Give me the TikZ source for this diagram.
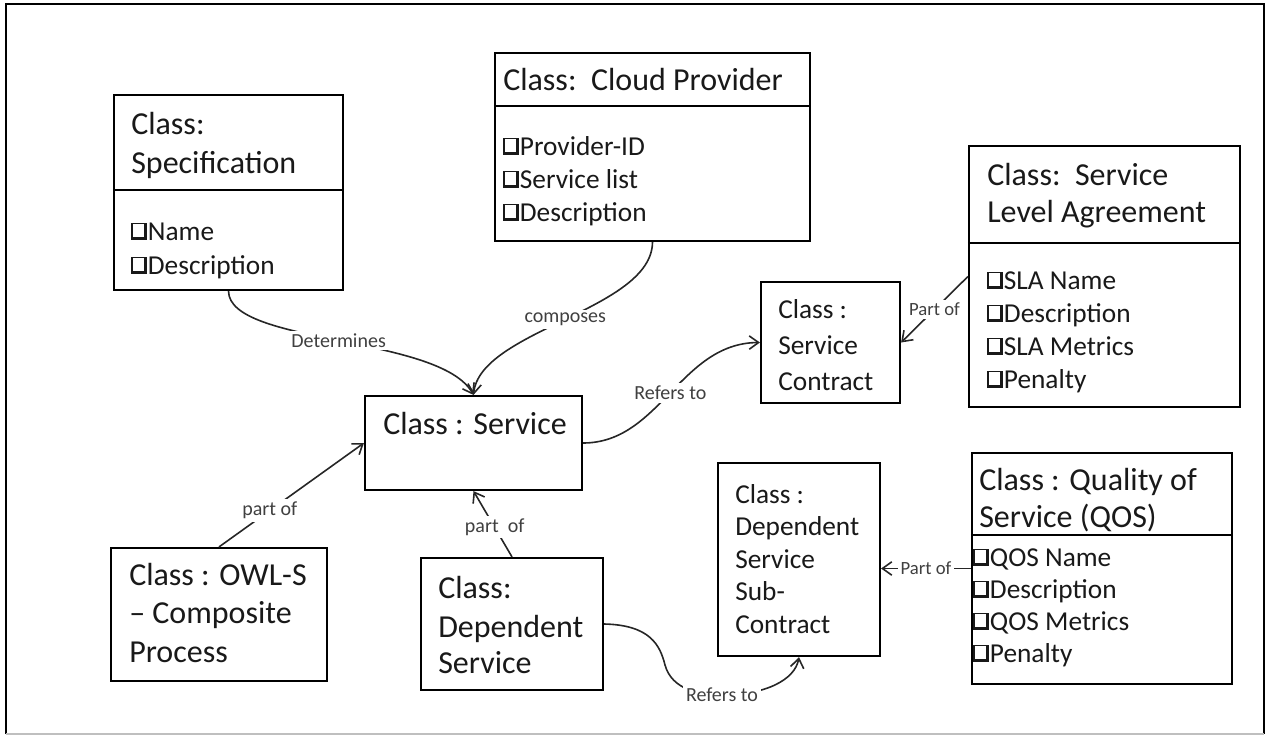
\documentclass[tikz,border=0pt]{standalone}
\usepackage{fontspec}
\setmainfont{Carlito}
\usetikzlibrary{arrows.meta,calc}
\newcommand\cbx{\mbox{\vbox{\hrule height 1pt\hbox{\vrule width 1pt\vbox to 9.5pt{\vfil}\hspace{8.5pt}\vrule width 2.2pt}\hrule height 2.2pt}\hspace{0.8pt}}}
\newcommand\mkbox[5]{\node[cbox, minimum width=#4*0.75pt, minimum height=#5*0.75pt] (#1) at (#2,#3) {};}
\begin{document}
\begin{tikzpicture}[x=0.75pt,y=-0.75pt,
  cbox/.style={draw=black, line width=1.6pt, inner sep=0pt, fill=white},
  ttl/.style={anchor=base west, inner sep=0pt, text=black!90, font=\fontsize{24}{28}\selectfont},
  sml/.style={anchor=base west, inner sep=0pt, text=black!90, font=\fontsize{20.5}{24}\selectfont},
  att/.style={anchor=base west, inner sep=0pt, text=black!90, font=\fontsize{20.5}{24}\selectfont},
  lbl/.style={fill=white, inner sep=2pt, text=black!75, font=\fontsize{15}{18}\selectfont},
  conn/.style={line width=1.2pt, draw=black!85},
  arr/.style={conn, -{Straight Barb[length=7pt,width=10pt,line width=1.2pt]}},
  divl/.style={line width=1.6pt, draw=black}]
\useasboundingbox (0,0) rectangle (1267,735);
% frame
\draw[line width=1.6pt, black] (6,734) -- (6,4) -- (1264,4) -- (1264,734);
\draw[line width=1pt, black!25] (6,734) -- (1264,734);

% boxes
\mkbox{spec}{228.5}{192.5}{229}{195}
\mkbox{cloud}{652.5}{147}{315}{188}
\mkbox{sla}{1104.5}{276.5}{271}{261}
\mkbox{contract}{830.5}{342.5}{139}{121}
\mkbox{service}{473.5}{443}{217}{94}
\mkbox{qos}{1102}{568.5}{260}{231}
\mkbox{dsub}{799}{559.5}{162}{193}
\mkbox{owl}{219}{614.5}{216}{133}
\mkbox{dep}{512}{624}{182}{132}

% dividers
\draw[divl] (spec.west |- 0,190) -- (spec.east |- 0,190);
\draw[divl] (cloud.west |- 0,106) -- (cloud.east |- 0,106);
\draw[divl] (sla.west |- 0,243) -- (sla.east |- 0,243);
\draw[divl] (qos.west |- 0,535) -- (qos.east |- 0,535);

% texts
\node[ttl] (spec-t1) at (131,134) {Class:};
\node[ttl] (spec-t2) at (131,173) {Specification};
\node[att] (spec-a1) at (131,240) {\cbx Name};
\node[att] (spec-a2) at (131,274) {\cbx Description};

\node[ttl] (cloud-t1) at (503,90) {Class:\ \ Cloud Provider};
\node[att] (cloud-a1) at (503,155) {\cbx Provider-ID};
\node[att] (cloud-a2) at (503,188) {\cbx Service list};
\node[att] (cloud-a3) at (503,221) {\cbx Description};

\node[ttl] (sla-t1) at (987,185) {Class:\ \ Service};
\node[ttl] (sla-t2) at (987,222) {Level Agreement};
\node[att] (sla-a1) at (987,289) {\cbx SLA Name};
\node[att] (sla-a2) at (987,322) {\cbx Description};
\node[att] (sla-a3) at (987,355) {\cbx SLA Metrics};
\node[att] (sla-a4) at (987,388) {\cbx Penalty};

\node[sml] (con-t1) at (778,318) {Class :};
\node[sml] (con-t2) at (778,354) {Service};
\node[sml] (con-t3) at (778,390) {Contract};

\node[ttl] (svc-t1) at (383,434) {Class : Service};

\node[ttl] (qos-t1) at (979,490) {Class : Quality of};
\node[ttl] (qos-t2) at (979,527) {Service (QOS)};
\node[att] (qos-a1) at (973,566) {\cbx QOS Name};
\node[att] (qos-a2) at (973,598) {\cbx Description};
\node[att] (qos-a3) at (973,630) {\cbx QOS Metrics};
\node[att] (qos-a4) at (973,662) {\cbx Penalty};

\node[sml] (dsub-t1) at (735,503) {Class :};
\node[sml] (dsub-t2) at (735,535) {Dependent};
\node[sml] (dsub-t3) at (735,568) {Service};
\node[sml] (dsub-t4) at (735,600) {Sub-};
\node[sml] (dsub-t5) at (735,633) {Contract};

\node[ttl] (owl-t1) at (129,585) {Class : OWL-S};
\node[ttl] (owl-t2) at (129,623) {– Composite};
\node[ttl] (owl-t3) at (129,662) {Process};

\node[ttl] (dep-t1) at (438,598) {Class:};
\node[ttl] (dep-t2) at (438,637) {Dependent};
\node[ttl] (dep-t3) at (438,673) {Service};

% connectors
\draw[arr] (spec.south) .. controls (229,345) and (440,335) .. node[lbl, pos=0.5] (l-det) {Determines} (service.north);
\draw[arr] (cloud.south) .. controls (652,310) and (480,330) .. node[lbl, pos=0.5] (l-comp) {composes} (service.north);
\draw[arr] (service.east) .. controls (660,443) and (680,343) .. node[lbl, pos=0.5] (l-ref1) {Refers to} (contract.west);
\draw[arr] (sla.west) -- node[lbl, pos=0.5, font=\fontsize{14}{16}\selectfont] (l-part1) {Part of} (contract.east);
\draw[arr] (qos.west) -- node[lbl, pos=0.5, font=\fontsize{14}{16}\selectfont] (l-part2) {Part of} (qos.west -| dsub.east);
\draw[arr] (owl.north) -- node[lbl, pos=0.35] (l-part3) {part of} (service.west);
\draw[arr] (dep.north) -- node[lbl, pos=0.45] (l-part4) {part\ \ of} (service.south);
\draw[arr] (dep.east) .. controls (650,625) and (660,645) .. (665,665) .. controls (672,690) and (700,695) .. (722,695) node[lbl] (l-ref2) {Refers to} .. controls (765,695) and (795,680) .. (dsub.south);
\end{tikzpicture}
\end{document}
